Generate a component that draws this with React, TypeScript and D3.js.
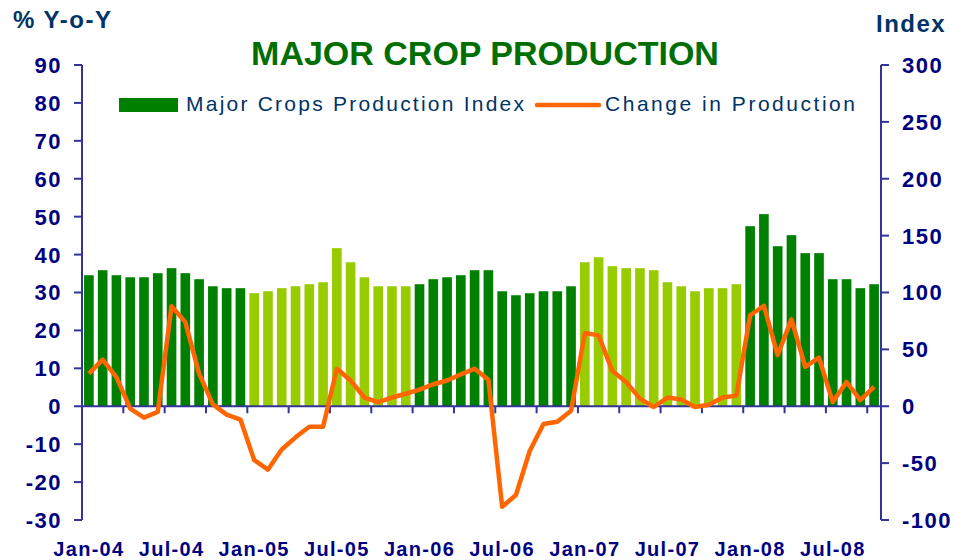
import React, { useRef, useEffect } from 'react';
import * as d3 from 'd3';

// months Jan-04 .. Oct-08
const months = [
  'Jan-04', 'Feb-04', 'Mar-04', 'Apr-04', 'May-04', 'Jun-04', 'Jul-04', 'Aug-04', 'Sep-04', 'Oct-04', 'Nov-04', 'Dec-04',
  'Jan-05', 'Feb-05', 'Mar-05', 'Apr-05', 'May-05', 'Jun-05', 'Jul-05', 'Aug-05', 'Sep-05', 'Oct-05', 'Nov-05', 'Dec-05',
  'Jan-06', 'Feb-06', 'Mar-06', 'Apr-06', 'May-06', 'Jun-06', 'Jul-06', 'Aug-06', 'Sep-06', 'Oct-06', 'Nov-06', 'Dec-06',
  'Jan-07', 'Feb-07', 'Mar-07', 'Apr-07', 'May-07', 'Jun-07', 'Jul-07', 'Aug-07', 'Sep-07', 'Oct-07', 'Nov-07', 'Dec-07',
  'Jan-08', 'Feb-08', 'Mar-08', 'Apr-08', 'May-08', 'Jun-08', 'Jul-08', 'Aug-08', 'Sep-08', 'Oct-08'
];

// Major Crops Production Index (right axis)
const productionIndex = [
  115.2, 119.6, 115.2, 113.4, 113.4, 117.0, 121.4, 117.0, 111.7, 105.5, 103.8, 103.8,
  99.4, 101.1, 103.8, 105.5, 107.3, 109.0, 139.0, 126.6, 113.4, 105.5, 105.5, 105.5,
  107.3, 111.7, 113.4, 115.2, 119.6, 119.6, 101.1, 97.6, 99.4, 101.1, 101.1, 105.5,
  126.6, 131.0, 123.1, 121.4, 121.4, 119.6, 109.0, 105.5, 101.1, 103.8, 103.8, 107.3,
  158.3, 168.9, 140.7, 150.4, 134.6, 134.6, 111.7, 111.7, 103.8, 107.3
];

// Change in Production, % Y-o-Y (left axis)
const changePct = [
  8.6, 12.3, 7.7, -0.6, -3.0, -1.5, 26.4, 22.2, 8.6, 0.5, -2.2, -3.5,
  -14.2, -16.7, -11.4, -8.2, -5.4, -5.4, 9.9, 6.8, 2.3, 1.1, 2.3, 3.3,
  4.4, 5.8, 6.8, 8.4, 9.9, 7.0, -26.5, -23.4, -11.8, -4.7, -4.1, -1.2,
  19.3, 18.7, 9.3, 6.4, 2.0, -0.2, 2.3, 1.8, -0.2, 0.4, 2.3, 2.8,
  24.0, 26.5, 13.5, 22.9, 10.4, 12.8, 1.1, 6.4, 1.6, 5.1
];

// years drawn in light green
const lightYears = ['05', '07'];

const leftTicks = [-30, -20, -10, 0, 10, 20, 30, 40, 50, 60, 70, 80, 90];
const rightTicks = [-100, -50, 0, 50, 100, 150, 200, 250, 300];

const App: React.FC = () => {
  const svgRef = useRef<SVGSVGElement | null>(null);

  useEffect(() => {
    const svg = d3.select(svgRef.current);
    svg.selectAll('*').remove();
    const width = 955;
    const height = 560;
    const left = 82, right = 881, top = 65, bottom = 520;
    const axisColor = '#333399';
    const tickColor = '#000080';
    const font = 'Arial, "Liberation Sans", sans-serif';

    svg.attr('width', width).attr('height', height).style('background', '#ffffff');

    const x = d3.scaleBand()
      .domain(months)
      .range([left, right])
      .paddingInner(0.3)
      .paddingOuter(0.15);

    const yL = d3.scaleLinear().domain([-30, 90]).range([bottom, top]);
    const yR = d3.scaleLinear().domain([-100, 300]).range([bottom, top]);

    // bars
    svg.append('g')
      .selectAll('rect')
      .data(months)
      .enter()
      .append('rect')
      .attr('x', d => x(d) as number)
      .attr('width', x.bandwidth())
      .attr('y', (d, i) => yR(productionIndex[i]))
      .attr('height', (d, i) => yR(0) - yR(productionIndex[i]))
      .attr('fill', d => lightYears.includes(d.slice(4)) ? '#99CC00' : '#008000');

    // x axis line at zero
    svg.append('line')
      .attr('x1', left).attr('x2', right)
      .attr('y1', yL(0)).attr('y2', yL(0))
      .attr('stroke', axisColor).attr('stroke-width', 2);

    // quarterly ticks at band boundaries
    const step = x.step();
    svg.append('g')
      .selectAll('line')
      .data(months.filter((d, i) => i % 3 === 0 && i > 0))
      .enter()
      .append('line')
      .attr('x1', d => (x(d) as number) - step * 0.15)
      .attr('x2', d => (x(d) as number) - step * 0.15)
      .attr('y1', yL(0)).attr('y2', yL(0) + 7)
      .attr('stroke', axisColor).attr('stroke-width', 2);

    // x labels
    svg.append('g')
      .selectAll('text')
      .data(months.filter((d, i) => i % 6 === 0))
      .enter()
      .append('text')
      .attr('x', d => (x(d) as number) + x.bandwidth() / 2)
      .attr('y', 556)
      .attr('text-anchor', 'middle')
      .style('font-family', font)
      .style('font-size', '20px')
      .style('font-weight', 'bold')
      .style('letter-spacing', '1.3px')
      .style('fill', tickColor)
      .text(d => d);

    // left axis
    svg.append('line')
      .attr('x1', left).attr('x2', left).attr('y1', top).attr('y2', bottom)
      .attr('stroke', axisColor).attr('stroke-width', 2);
    const lt = svg.append('g').selectAll('g').data(leftTicks).enter().append('g');
    lt.append('line')
      .attr('x1', left - 8).attr('x2', left)
      .attr('y1', d => yL(d)).attr('y2', d => yL(d))
      .attr('stroke', axisColor).attr('stroke-width', 2);
    lt.append('text')
      .attr('x', 62)
      .attr('y', d => yL(d))
      .attr('dy', '0.36em')
      .attr('text-anchor', 'end')
      .style('font-family', font)
      .style('font-size', '22px')
      .style('font-weight', 'bold')
      .style('letter-spacing', '1.5px')
      .style('fill', tickColor)
      .text(d => d);

    // right axis
    svg.append('line')
      .attr('x1', right).attr('x2', right).attr('y1', top).attr('y2', bottom)
      .attr('stroke', axisColor).attr('stroke-width', 2);
    const rt = svg.append('g').selectAll('g').data(rightTicks).enter().append('g');
    rt.append('line')
      .attr('x1', right).attr('x2', right + 8)
      .attr('y1', d => yR(d)).attr('y2', d => yR(d))
      .attr('stroke', axisColor).attr('stroke-width', 2);
    rt.append('text')
      .attr('x', 902)
      .attr('y', d => yR(d))
      .attr('dy', '0.36em')
      .attr('text-anchor', 'start')
      .style('font-family', font)
      .style('font-size', '22px')
      .style('font-weight', 'bold')
      .style('letter-spacing', '1.5px')
      .style('fill', tickColor)
      .text(d => d);

    // change line
    const line = d3.line<number>()
      .x((d, i) => (x(months[i]) as number) + x.bandwidth() / 2)
      .y(d => yL(d));
    svg.append('path')
      .datum(changePct)
      .attr('d', line)
      .attr('fill', 'none')
      .attr('stroke', '#FF6600')
      .attr('stroke-width', 4.5)
      .attr('stroke-linejoin', 'round');

    // title and axis titles
    svg.append('text')
      .attr('x', 485).attr('y', 65)
      .attr('text-anchor', 'middle')
      .style('font-family', font)
      .style('font-size', '34px')
      .style('font-weight', 'bold')
      .style('fill', '#006E00')
      .text('MAJOR CROP PRODUCTION');

    svg.append('text')
      .attr('x', 13).attr('y', 28)
      .style('font-family', font)
      .style('font-size', '24px')
      .style('font-weight', 'bold')
      .style('letter-spacing', '1.5px')
      .style('fill', '#003366')
      .text('% Y-o-Y');

    svg.append('text')
      .attr('x', 876).attr('y', 32)
      .style('font-family', font)
      .style('font-size', '24px')
      .style('font-weight', 'bold')
      .style('letter-spacing', '1.5px')
      .style('fill', '#003366')
      .text('Index');

    // legend
    const legend = svg.append('g');
    legend.append('rect')
      .attr('x', 119).attr('y', 98).attr('width', 59).attr('height', 14)
      .attr('fill', '#008000');
    legend.append('text')
      .attr('x', 186).attr('y', 111)
      .attr('textLength', 338)
      .attr('lengthAdjust', 'spacing')
      .style('font-family', font)
      .style('font-size', '21px')
      .style('fill', '#003366')
      .text('Major Crops Production Index');
    legend.append('line')
      .attr('x1', 537).attr('x2', 599).attr('y1', 105).attr('y2', 105)
      .attr('stroke', '#FF6600').attr('stroke-width', 4.5)
      .attr('stroke-linecap', 'round');
    legend.append('text')
      .attr('x', 605).attr('y', 111)
      .attr('textLength', 250)
      .attr('lengthAdjust', 'spacing')
      .style('font-family', font)
      .style('font-size', '21px')
      .style('fill', '#003366')
      .text('Change in Production');
  }, []);

  return (
    <svg
      ref={svgRef}
      style={{ position: 'absolute', left: 0, top: 0, display: 'block' }}
    ></svg>
  );
};

export default App;
